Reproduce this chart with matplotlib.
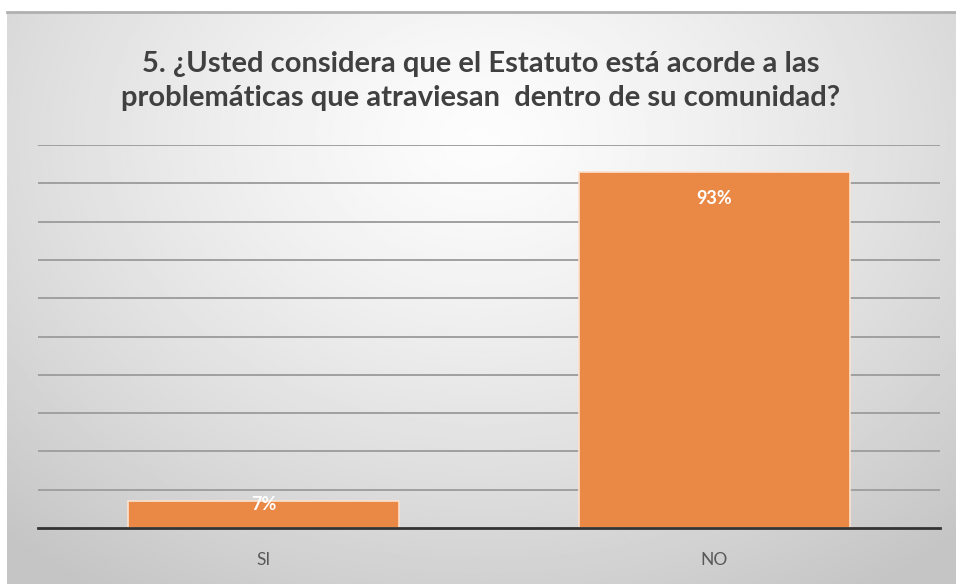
import numpy as np
import matplotlib.pyplot as plt

categories = ["SI", "NO"]
values = [7, 93]
labels = ["7%", "93%"]
title = ("5. ¿Usted considera que el Estatuto está acorde a las\n"
         "problemáticas que atraviesan  dentro de su comunidad?")

plt.rcParams['font.family'] = ['Lato', 'DejaVu Sans']

W, H = 956, 584
fig = plt.figure(figsize=(W / 100, H / 100), dpi=100, facecolor="white")

# chart area with soft radial gradient
bg = fig.add_axes([7 / W, 0, (W - 7) / W, (H - 12) / H])
yy, xx = np.mgrid[0:1:300j, 0:1:500j]
r = np.sqrt(((xx - 0.5) / 0.75) ** 2 + ((yy - 0.22) / 0.95) ** 2)
shade = 0.99 - 0.22 * np.clip(r, 0, 1) ** 1.3
bg.imshow(shade, cmap="gray", vmin=0, vmax=1, aspect="auto",
          extent=[0, 1, 0, 1], origin="upper")
bg.set_xlim(0, 1)
bg.set_ylim(0, 1)
bg.axis("off")
bg.plot([0, 1], [1, 1], color="#b0b0b0", lw=2, clip_on=False)

ax = fig.add_axes([38 / W, (H - 528) / H, (940 - 38) / W, (528 - 145) / H])
ax.set_facecolor("none")
x = np.arange(len(categories))
bars = ax.bar(x, values, width=0.6, color="#EA8945",
              edgecolor="#FBE2CF", linewidth=1.2, zorder=3)
ax.set_xlim(-0.5, len(categories) - 0.5)
ax.set_ylim(0, 100)
ax.set_yticks(np.arange(10, 101, 10))
ax.yaxis.grid(True, color="#a0a0a0", lw=1.4, zorder=0)
ax.tick_params(axis="y", left=False, labelleft=False)
ax.set_xticks(x, categories)
ax.tick_params(axis="x", length=0, pad=17, labelsize=12.5, labelcolor="#595959")
for s in ["top", "right", "left"]:
    ax.spines[s].set_visible(False)
ax.spines["bottom"].set_color("#333333")
ax.spines["bottom"].set_linewidth(2)
ax.spines["bottom"].set_zorder(4)

for b, v, lab in zip(bars, values, labels):
    off = -27 if v > 20 else -3
    ax.annotate(lab, (b.get_x() + b.get_width() / 2, v), xytext=(0, off * 0.72),
                textcoords="offset points", ha="center", va="center",
                color="white", fontsize=13, fontweight="bold", zorder=5)

fig.text(481 / W, (H - 81) / H, title, ha="center", va="center",
         fontsize=21, fontweight="bold", color="#404040", linespacing=1.42)

fig.savefig("out.png", dpi=100, facecolor="white")
